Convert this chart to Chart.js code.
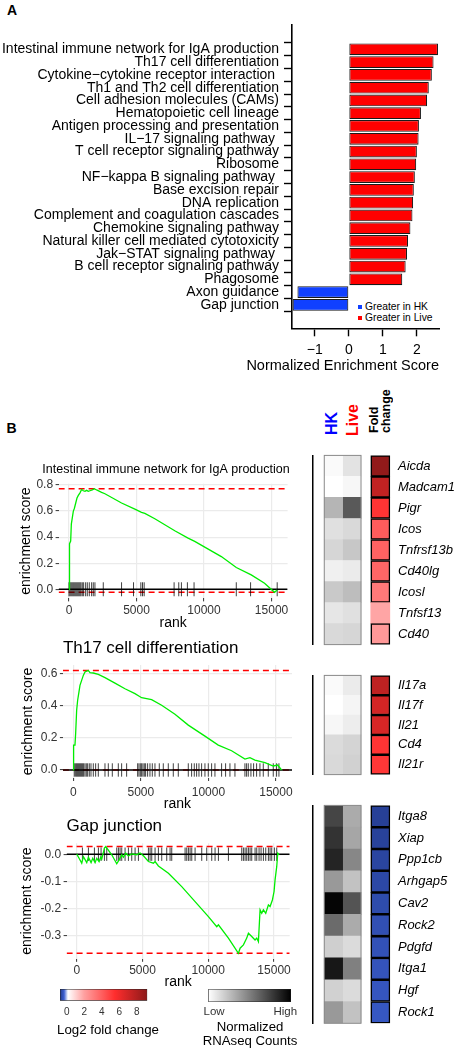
<!DOCTYPE html>
<html>
<head>
<meta charset="utf-8">
<title>GSEA figure</title>
<script src="https://cdn.jsdelivr.net/npm/chart.js@4.4.1/dist/chart.umd.min.js"></script>
<style>
  body { margin: 0; background: #fff; }
  #fig { position: relative; width: 458px; height: 1050px; overflow: hidden; font-family: 'Liberation Sans', Arial, Helvetica, sans-serif; }
  #fig canvas, #fig .t { position: absolute; }
  .t { white-space: nowrap; line-height: 1; color: #000; }
  .v { writing-mode: vertical-rl; transform: rotate(180deg); font-weight: bold; }
  .sq { position: absolute; width: 4px; height: 4px; }
</style>
</head>
<body>
<div id="fig">
  <div class="t" style="left:7px;top:3px;font-size:14px;font-weight:bold">A</div>
  <div class="t" style="left:6.5px;top:421px;font-size:14px;font-weight:bold">B</div>

  <div class="sq" style="left:358px;top:305px;background:#1040ff"></div>
  <div class="t" style="left:365px;top:302px;font-size:10.3px">Greater in HK</div>
  <div class="sq" style="left:358px;top:316px;background:#ff0000"></div>
  <div class="t" style="left:365px;top:312.7px;font-size:10.3px">Greater in Live</div>

  <div class="t v" style="left:324.3px;top:375px;width:16px;height:60px;font-size:16px;line-height:16px;color:#0000ff">HK</div>
  <div class="t v" style="left:344.7px;top:375.7px;width:16px;height:60px;font-size:16px;line-height:16px;color:#ff0000">Live</div>
  <div class="t v" style="left:369.3px;top:373.3px;width:23px;height:60px;font-size:12.5px;line-height:11.5px">Fold<br>change</div>
</div>
<script>
// ---------- panel A: normalized enrichment scores
const pathways = [
  'Intestinal immune network for IgA production',
  'Th17 cell differentiation',
  'Cytokine−cytokine receptor interaction ',
  'Th1 and Th2 cell differentiation',
  'Cell adhesion molecules (CAMs)',
  'Hematopoietic cell lineage',
  'Antigen processing and presentation',
  'IL−17 signaling pathway ',
  'T cell receptor signaling pathway',
  'Ribosome',
  'NF−kappa B signaling pathway ',
  'Base excision repair',
  'DNA replication',
  'Complement and coagulation cascades',
  'Chemokine signaling pathway',
  'Natural killer cell mediated cytotoxicity',
  'Jak−STAT signaling pathway ',
  'B cell receptor signaling pathway',
  'Phagosome',
  'Axon guidance',
  'Gap junction'
];
const nes = [2.62, 2.49, 2.44, 2.35, 2.30, 2.12, 2.06, 2.05, 2.00, 1.98, 1.94,
             1.91, 1.89, 1.87, 1.81, 1.74, 1.71, 1.67, 1.57, -1.51, -1.65];
const nesTicks = [-1, 0, 1, 2];

// ---------- panel B: running enrichment scores
const rankTicks = [0, 5000, 10000, 15000];

const igaRank = [0, 25, 50, 123, 172, 246, 320, 394, 493, 591, 690, 813, 936, 1059, 1182, 1305, 1429,
  1552, 1724, 1872, 2044, 2414, 2660, 3892, 4877, 5369, 5616, 6355, 7832, 8818, 9310, 11280, 12389,
  13497, 14482, 15221, 15418];
const igaES = [0, 0.19, 0.35, 0.37, 0.50, 0.55, 0.60, 0.62, 0.66, 0.70, 0.72, 0.74, 0.765, 0.756, 0.751,
  0.759, 0.751, 0.756, 0.762, 0.772, 0.762, 0.744, 0.733, 0.662, 0.615, 0.590, 0.582, 0.541, 0.449,
  0.392, 0.367, 0.251, 0.167, 0.110, 0.046, -0.023, -0.005];
const igaHits = [0, 74, 148, 222, 296, 369, 443, 517, 591, 665, 739, 813, 887, 985, 1084, 1232, 1355,
  1502, 1675, 1798, 1921, 2537, 3892, 4778, 5320, 5443, 5566, 7783, 8128, 8325, 8768, 9261, 12389,
  13448, 15418];
const igaTicks = [0, 0.2, 0.4, 0.6, 0.8];

const th17Rank = [0, 20, 123, 173, 247, 321, 419, 493, 617, 740, 863, 987, 1110, 1234, 1480, 1850, 2344,
  3084, 3824, 4564, 5057, 5797, 6538, 7525, 8511, 9745, 10731, 11718, 12705, 13075, 13445, 14186,
  14802, 15122, 15418];
const th17ES = [0, 0.155, 0.155, 0.228, 0.373, 0.435, 0.487, 0.528, 0.559, 0.590, 0.611, 0.617, 0.621,
  0.607, 0.605, 0.596, 0.576, 0.542, 0.507, 0.476, 0.451, 0.439, 0.404, 0.348, 0.280, 0.211, 0.155,
  0.120, 0.068, 0.077, 0.062, 0.046, 0.025, 0.031, 0];
const th17Hits = [74, 173, 247, 321, 395, 469, 543, 617, 691, 765, 863, 962, 1061, 1184, 1308, 1480,
  1653, 1850, 2344, 2590, 2886, 3330, 3577, 3947, 4761, 4860, 4959, 5057, 5156, 5255, 5353, 5501,
  5674, 5847, 6044, 6365, 6661, 7031, 7401, 7771, 8511, 8758, 8955, 9128, 9301, 9498, 9745, 9991,
  10238, 10485, 10978, 11274, 11595, 11965, 12705, 12828, 12952, 13149, 13346, 13568, 13815, 14062,
  14432, 14802, 15048, 15221];
const th17Ticks = [0, 0.2, 0.4, 0.6];

const gapRank = [0, 177, 380, 507, 760, 887, 1090, 1216, 1394, 1520, 1698, 1824, 1900, 2103, 2205, 2661,
  3041, 3218, 3421, 3548, 3725, 3928, 4181, 4561, 4815, 5068, 5448, 5828, 5955, 6208, 6969, 7982,
  8996, 10009, 10643, 10770, 11530, 12290, 12417, 12670, 12923, 13050, 13303, 13556, 13683, 13810,
  13937, 14063, 14190, 14368, 14570, 14697, 14874, 15000, 15077, 15204, 15280, 15381];
const gapES = [0, -0.015, -0.033, -0.009, -0.031, -0.011, -0.031, -0.015, -0.031, -0.015, -0.027,
  -0.011, -0.018, 0.022, 0.028, -0.002, -0.035, -0.021, -0.002, -0.011, 0.004, -0.006, 0.001, -0.002,
  0.004, -0.006, -0.027, -0.033, -0.027, -0.043, -0.070, -0.119, -0.174, -0.229, -0.266, -0.259,
  -0.308, -0.364, -0.345, -0.333, -0.308, -0.290, -0.302, -0.315, -0.308, -0.321, -0.204, -0.217,
  -0.204, -0.217, -0.186, -0.192, -0.168, -0.137, -0.094, -0.045, 0.004, -0.002];
const gapHits = [431, 887, 1343, 1647, 1850, 2103, 2281, 3041, 3168, 3294, 3421, 3674, 3928, 4181, 4435,
  4688, 5448, 5575, 5702, 5955, 6208, 6462, 6842, 7095, 7222, 8236, 8362, 8489, 8616, 8743, 8996,
  9503, 9883, 10263, 10516, 10770, 11530, 12543, 12670, 12797, 12923, 13050, 13177, 13303, 13556,
  13683, 13860, 14012, 14190, 14368, 14570, 14697, 14824, 15026, 15204];
const gapTicks = [0, -0.1, -0.2, -0.3];

// ---------- panel B: heatmaps (normalized counts 0..1, log2 fold change)
const countCols = ['HK', 'Live'];
const igaGenes = ['Aicda', 'Madcam1', 'Pigr', 'Icos', 'Tnfrsf13b', 'Cd40lg', 'Icosl', 'Tnfsf13', 'Cd40'];
const igaHK   = [0.02, 0.00, 0.29, 0.12, 0.16, 0.06, 0.21, 0.10, 0.15];
const igaLive = [0.11, 0.03, 0.65, 0.15, 0.22, 0.08, 0.26, 0.12, 0.16];
const igaFC   = [9.0, 7.5, 5.3, 4.1, 3.9, 3.8, 3.2, 1.9, 2.25];
const igaSig  = [1, 1, 1, 1, 1, 1, 1, 0, 1];

const th17Genes = ['Il17a', 'Il17f', 'Il21', 'Cd4', 'Il21r'];
const th17HK   = [0.02, 0.00, 0.03, 0.14, 0.15];
const th17Live = [0.08, 0.04, 0.07, 0.17, 0.18];
const th17FC   = [7.6, 6.9, 6.8, 5.3, 5.2];
const th17Sig  = [1, 1, 1, 1, 1];

const gapGenes = ['Itga8', 'Xiap', 'Ppp1cb', 'Arhgap5', 'Cav2', 'Rock2', 'Pdgfd', 'Itga1', 'Hgf', 'Rock1'];
const gapHK   = [0.73, 0.80, 0.86, 0.40, 0.98, 0.58, 0.19, 0.91, 0.18, 0.40];
const gapLive = [0.33, 0.35, 0.47, 0.24, 0.67, 0.33, 0.14, 0.50, 0.14, 0.24];
const gapFC   = [-0.68, -0.66, -0.62, -0.58, -0.54, -0.50, -0.47, -0.45, -0.42, -0.40];
const gapSig  = [1, 1, 1, 1, 1, 1, 1, 1, 1, 1];

const fcLimits = [-0.76, 9.2];
const fcTicks = [0, 2, 4, 6, 8];
const countTicks = [0.07, 0.93];
const countTickLabels = ['Low', 'High'];

// ---------- colour scales
const fcStops = [[-0.76, [34, 58, 138]], [-0.3, [60, 95, 210]], [0.15, [255, 255, 255]],
  [2, [255, 160, 160]], [4, [255, 95, 95]], [5.5, [255, 45, 45]], [9.2, [140, 25, 25]]];
const countStops = [[0, [255, 255, 255]], [1, [0, 0, 0]]];

function rgb(c) { return 'rgb(' + c.map(Math.round).join(',') + ')'; }
function scaleColor(stops, v) {
  if (v <= stops[0][0]) return rgb(stops[0][1]);
  for (let i = 1; i < stops.length; i++) {
    if (v <= stops[i][0]) {
      const [v0, c0] = stops[i - 1], [v1, c1] = stops[i];
      const t = (v - v0) / (v1 - v0);
      return rgb(c0.map((c, k) => c + (c1[k] - c) * t));
    }
  }
  return rgb(stops[stops.length - 1][1]);
}
const fcColor = v => scaleColor(fcStops, v);
const countColor = v => scaleColor(countStops, v);

function gradientFill(chart, stops, lim) {
  const { chartArea, scales } = chart;
  if (!chartArea) return null;
  const x0 = scales.x.getPixelForValue(lim[0]), x1 = scales.x.getPixelForValue(lim[1]);
  const g = chart.ctx.createLinearGradient(x0, 0, x1, 0);
  stops.forEach(([v, c]) => g.addColorStop((v - lim[0]) / (lim[1] - lim[0]), rgb(c)));
  return g;
}

// ---------- setup
Chart.defaults.font.family = "'Liberation Sans', Arial, Helvetica, sans-serif";
Chart.defaults.color = '#000';
Chart.defaults.animation = false;
Chart.defaults.events = [];
Chart.defaults.plugins.legend.display = false;
Chart.defaults.plugins.tooltip.enabled = false;

function makeCanvas(left, top, w, h) {
  const c = document.createElement('canvas');
  c.width = w; c.height = h;
  c.style.left = left + 'px'; c.style.top = top + 'px';
  c.style.width = w + 'px'; c.style.height = h + 'px';
  document.getElementById('fig').appendChild(c);
  return c;
}

// invisible side axis used only to reserve room
const spacer = w => ({
  type: 'linear', position: 'right', display: true,
  grid: { display: false, drawTicks: false }, ticks: { display: false }, border: { display: false },
  afterFit: s => { s.width = w; }
});

// ---------- panel A
new Chart(makeCanvas(0, 0, 458, 380), {
  type: 'bar',
  data: {
    datasets: [{
      data: nes.map((v, i) => ({ x: v, y: i })),
      backgroundColor: nes.map(v => v > 0 ? '#ff0000' : '#1040ff'),
      borderColor: '#1a1a1a',
      borderWidth: 1.1,
      borderSkipped: false,
      barPercentage: 0.92,
      categoryPercentage: 1
    }]
  },
  options: {
    indexAxis: 'y',
    responsive: false,
    devicePixelRatio: 1,
    layout: { padding: { top: 25, right: 19, left: 0, bottom: 0 } },
    plugins: {
      title: {
        display: true, position: 'bottom', align: 'end', text: 'Normalized Enrichment Score',
        font: { size: 14.5, weight: 'normal' }, color: '#000', padding: { top: 0, bottom: 5.3 }
      }
    },
    scales: {
      y: {
        type: 'linear', reverse: true, min: -1.34, max: 21.27,
        afterBuildTicks: s => { s.ticks = pathways.map((p, i) => ({ value: i })); },
        afterFit: s => { s.width = 292; },
        ticks: { autoSkip: false, callback: v => pathways[v], font: { size: 14 }, color: '#000', padding: 5 },
        grid: { drawOnChartArea: false, tickLength: 8, tickColor: '#000', tickWidth: 1.4 },
        border: { color: '#000', width: 1.6 }
      },
      x: {
        type: 'linear', min: -1.67, max: 2.65,
        afterBuildTicks: s => { s.ticks = nesTicks.map(v => ({ value: v })); },
        afterFit: s => { s.height = 29; },
        ticks: { callback: v => v < 0 ? '−' + Math.abs(v) : String(v), font: { size: 14 }, color: '#000', padding: 5 },
        grid: { drawOnChartArea: false, tickLength: 8, tickColor: '#000', tickWidth: 1.4 },
        border: { color: '#000', width: 1.6 }
      }
    }
  }
});

// ---------- panel B: GSEA running score plots
const rankLimits = [-771, 16189];

function gseaChart(canvas, d) {
  const esMax = Math.max(...d.es), esMin = Math.min(...d.es);
  const span = v => [{ x: rankLimits[0], y: v }, { x: rankLimits[1], y: v }];
  const flat = { showLine: true, pointRadius: 0, fill: false };
  const scales = {
    x: {
      type: 'linear', min: rankLimits[0], max: rankLimits[1],
      afterBuildTicks: s => { s.ticks = rankTicks.map(v => ({ value: v })); },
      afterFit: s => { s.height = d.xHeight; },
      ticks: { callback: v => String(v), font: { size: 12 }, color: '#333', padding: d.xTickPad },
      grid: { color: '#ebebeb', lineWidth: 1.2, tickColor: '#333', tickLength: 3, tickWidth: 1 },
      border: { display: false },
      title: { display: true, text: 'rank', font: { size: 14 }, color: '#000', padding: { top: 0, bottom: d.xTitlePad } }
    },
    y: {
      type: 'linear', min: d.yMin, max: d.yMax,
      afterBuildTicks: s => { s.ticks = d.yTicks.map(v => ({ value: v })); },
      afterFit: s => { s.width = d.yWidth; },
      ticks: { callback: v => v.toFixed(1), font: { size: 12 }, color: '#333', padding: 2.5 },
      grid: { color: '#ebebeb', lineWidth: 1.2, tickColor: '#333', tickLength: 3, tickWidth: 1 },
      border: { display: false },
      title: { display: true, text: 'enrichment score', font: { size: 14 }, color: '#000', padding: { top: d.yTitlePad, bottom: 0 } }
    }
  };
  if (d.rightAxis) scales.yR = spacer(d.rightAxis);
  return new Chart(canvas, {
    type: 'scatter',
    data: {
      datasets: [
        Object.assign({ data: d.rank.map((r, i) => ({ x: r, y: d.es[i] })), borderColor: '#00ee00', borderWidth: 1.3, order: 0 }, flat),
        Object.assign({ data: span(0), borderColor: '#000', borderWidth: 1.4, order: 1 }, flat),
        {
          data: d.hits.map(r => ({ x: r, y: 0 })), showLine: false,
          pointStyle: 'line', pointRotation: 90, pointRadius: d.hitLen,
          pointBorderColor: 'rgba(0,0,0,0.75)', pointBorderWidth: 1, order: 2
        },
        Object.assign({ data: span(esMax), borderColor: '#ff0000', borderWidth: 1.5, borderDash: [6, 4], order: 3 }, flat),
        Object.assign({ data: span(esMin), borderColor: '#ff0000', borderWidth: 1.5, borderDash: [6, 4], order: 3 }, flat)
      ]
    },
    options: {
      responsive: false,
      devicePixelRatio: 1,
      layout: { padding: { left: 0, right: d.rightPad || 0, top: 0, bottom: 0 } },
      plugins: {
        title: {
          display: true, text: d.title, font: { size: d.titleSize, weight: 'normal' }, color: '#000',
          align: d.titleAlign, fullSize: d.fullSize, padding: d.titlePad
        }
      },
      scales: scales
    }
  });
}

gseaChart(makeCanvas(0, 455, 332, 178), {
  rank: igaRank, es: igaES, hits: igaHits, yTicks: igaTicks, yMin: -0.07, yMax: 0.81, hitLen: 7,
  title: 'Intestinal immune network for IgA production', titleSize: 12.5, titleAlign: 'center', fullSize: true,
  titlePad: { top: 7.5, bottom: 6.2 }, yWidth: 58.6, rightAxis: 44.4, xHeight: 34.6,
  yTitlePad: 17.6, xTickPad: 2.4, xTitlePad: 1.6
});
gseaChart(makeCanvas(0, 630, 300, 185), {
  rank: th17Rank, es: th17ES, hits: th17Hits, yTicks: th17Ticks, yMin: -0.05, yMax: 0.655, hitLen: 6.7,
  title: 'Th17 cell differentiation', titleSize: 17, titleAlign: 'start', fullSize: false,
  titlePad: { top: 7.8, bottom: 6.8 }, yWidth: 62.9, rightPad: 8, xHeight: 37,
  yTitlePad: 19.6, xTickPad: 4.8, xTitlePad: 2.6
});
gseaChart(makeCanvas(0, 805, 300, 187), {
  rank: gapRank, es: gapES, hits: gapHits, yTicks: gapTicks, yMin: -0.384, yMax: 0.04, hitLen: 6.7,
  title: 'Gap junction', titleSize: 17, titleAlign: 'start', fullSize: false,
  titlePad: { top: 10.8, bottom: 7.1 }, yWidth: 66.6, rightPad: 10.3, xHeight: 33.2,
  yTitlePad: 19.1, xTickPad: 2, xTitlePad: 1.6
});

// ---------- panel B: heatmaps
const countBox = {
  id: 'countBox',
  afterDatasetsDraw(chart) {
    const { ctx, chartArea, scales } = chart;
    const x0 = scales.x.getPixelForValue(0), x1 = scales.x.getPixelForValue(countCols.length);
    ctx.save();
    ctx.strokeStyle = '#8a8a8a';
    ctx.lineWidth = 1;
    ctx.strokeRect(x0, chartArea.top, x1 - x0, chartArea.bottom - chartArea.top);
    ctx.restore();
  }
};
const foldGap = 0.53, foldWidth = 1.05;

function heatChart(canvas, genes, hk, live, fc, sig, padTop, padBottom) {
  const ones = genes.map(() => 1);
  return new Chart(canvas, {
    type: 'bar',
    data: {
      labels: genes,
      datasets: [
        { data: ones, backgroundColor: hk.map(countColor) },
        { data: ones, backgroundColor: live.map(countColor) },
        { data: genes.map(() => foldGap), backgroundColor: 'rgba(0,0,0,0)' },
        {
          data: genes.map(() => foldWidth), backgroundColor: fc.map(fcColor),
          borderColor: '#000', borderWidth: sig.map(s => s ? 1.6 : 0), borderSkipped: false
        }
      ]
    },
    options: {
      indexAxis: 'y',
      responsive: false,
      devicePixelRatio: 1,
      layout: { padding: { top: padTop, bottom: padBottom, left: 0, right: 0 } },
      datasets: { bar: { barPercentage: 1, categoryPercentage: 1 } },
      scales: {
        x: { type: 'linear', stacked: true, min: -0.63, max: 3.6, display: false },
        y: {
          stacked: true, offset: true,
          grid: { display: false, drawTicks: false }, ticks: { display: false },
          border: { color: '#000', width: 1.5 },
          afterFit: s => { s.width = 12.7; }
        },
        y2: {
          type: 'category', position: 'right', labels: genes, offset: true,
          grid: { display: false, drawTicks: false }, border: { display: false },
          ticks: { autoSkip: false, padding: 7.6, color: '#000', font: { size: 13, style: 'italic' } },
          afterFit: s => { s.width = 67.6; }
        }
      }
    },
    plugins: [countBox]
  });
}

heatChart(makeCanvas(300, 440, 158, 220), igaGenes, igaHK, igaLive, igaFC, igaSig, 7.3, 9);
heatChart(makeCanvas(300, 660, 158, 130), th17Genes, th17HK, th17Live, th17FC, th17Sig, 7.3, 9.3);
heatChart(makeCanvas(300, 790, 158, 260), gapGenes, gapHK, gapLive, gapFC, gapSig, 6.7, 26.7);

// ---------- colour bar legends
function colorBar(canvas, c) {
  return new Chart(canvas, {
    type: 'bar',
    data: {
      labels: [''],
      datasets: [{
        data: [c.lim],
        backgroundColor: ctx => gradientFill(ctx.chart, c.stops, c.lim),
        borderColor: '#222', borderWidth: 0.8, borderSkipped: false,
        barPercentage: 1, categoryPercentage: 1
      }]
    },
    options: {
      indexAxis: 'y',
      responsive: false,
      devicePixelRatio: 1,
      layout: { padding: { top: 9, bottom: 0, left: 0, right: 0 } },
      plugins: {
        title: {
          display: true, position: 'bottom', text: c.title, color: '#000',
          font: { size: c.titleSize, weight: 'normal', lineHeight: c.titleLH },
          padding: { top: 0, bottom: c.titlePad }
        }
      },
      scales: {
        y: {
          grid: { display: false, drawTicks: false }, ticks: { display: false }, border: { display: false },
          afterFit: s => { s.width = c.left; }
        },
        yR: spacer(c.right),
        x: {
          type: 'linear', min: c.lim[0], max: c.lim[1],
          afterBuildTicks: s => { s.ticks = c.ticks.map(v => ({ value: v })); },
          afterFit: s => { s.height = c.xHeight; },
          grid: { display: false, drawTicks: false }, border: { display: false },
          ticks: { callback: c.tickText, font: { size: c.tickSize }, color: '#333', padding: c.tickPad, autoSkip: false, maxRotation: 0 }
        }
      }
    }
  });
}

colorBar(makeCanvas(50, 980, 116, 65), {
  lim: fcLimits, stops: fcStops, ticks: fcTicks, tickText: v => String(v), tickSize: 10, tickPad: 5.8,
  title: 'Log2 fold change', titleSize: 13.3, titleLH: 1.2, titlePad: 7, left: 10, right: 18.7, xHeight: 21.3
});
colorBar(makeCanvas(195, 980, 110, 70), {
  lim: [0, 1], stops: countStops, ticks: countTicks, tickText: (v, i) => countTickLabels[i], tickSize: 11.5, tickPad: 3.1,
  title: ['Normalized', 'RNAseq Counts'], titleSize: 13.2, titleLH: 1.075, titlePad: 1.2, left: 13.3, right: 14, xHeight: 18.4
});
</script>
</body>
</html>
